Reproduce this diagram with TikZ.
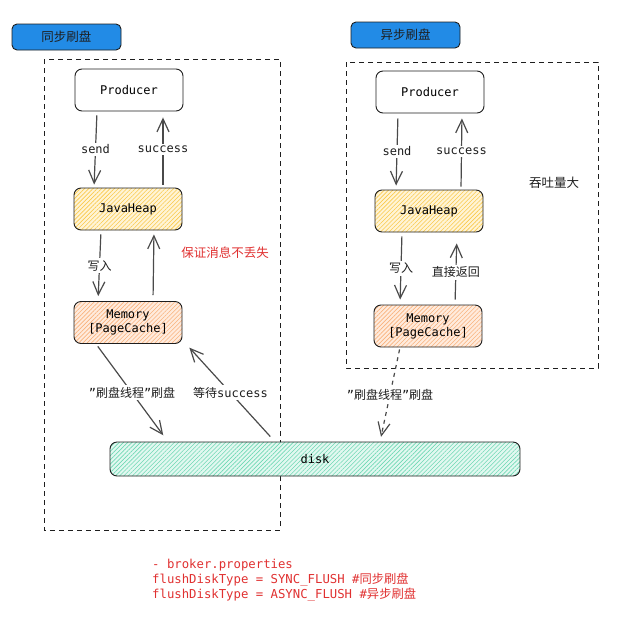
\documentclass[tikz,border=0pt]{standalone}
\usepackage{fontspec}
\setmainfont{DejaVu Sans Mono}[Ligatures=ResetAll]
\newfontfamily\cjk{Noto Sans CJK SC}
\usetikzlibrary{arrows.meta,patterns.meta,calc}
\definecolor{ink}{HTML}{1E1E1E}
\definecolor{arrowc}{HTML}{4A4A4A}
\definecolor{btnblue}{HTML}{228BE6}
\definecolor{heapbg}{HTML}{FFF4D6}
\definecolor{heapln}{HTML}{FAC94A}
\definecolor{membg}{HTML}{FFEBDD}
\definecolor{memln}{HTML}{F9B27C}
\definecolor{diskbg}{HTML}{E2F8F0}
\definecolor{diskln}{HTML}{6FD8B4}
\definecolor{redtxt}{HTML}{E03131}
\newcommand{\qq}{\char34}
\tikzset{
  box/.style={draw=ink, line width=0.9pt, rounded corners=7pt, minimum width=108pt, minimum height=42pt, align=center, font=\fontsize{12}{14}\selectfont, fill=white},
  heapbox/.style={box, fill=none, preaction={fill=heapbg}, pattern={Lines[angle=45,distance=3pt,line width=0.6pt]}, pattern color=heapln},
  membox/.style={box, fill=none, preaction={fill=membg}, pattern={Lines[angle=45,distance=3pt,line width=0.6pt]}, pattern color=memln},
  diskbox/.style={box, fill=none, preaction={fill=diskbg}, pattern={Lines[angle=45,distance=3pt,line width=0.6pt]}, pattern color=diskln, minimum width=410pt, minimum height=34pt},
  btn/.style={draw=ink, line width=0.9pt, rounded corners=5pt, fill=btnblue, minimum width=109pt, minimum height=26pt, font=\fontsize{12.5}{14}\selectfont\cjk, text=ink},
  frame/.style={draw=ink, line width=0.9pt, dash pattern=on 5pt off 4pt},
  arr/.style={draw=arrowc, line width=1.2pt, -{Straight Barb[length=13pt,width=12pt,line width=1.2pt]}},
  lbl/.style={fill=white, inner sep=2pt, font=\fontsize{12}{14}\selectfont, text=ink},
  clbl/.style={font=\fontsize{12.5}{14}\selectfont\cjk, text=ink}
}
\begin{document}
\begin{tikzpicture}[x=1pt,y=-1pt]
\useasboundingbox (0,0) rectangle (628,638);
% frames
\draw[frame] (44,59) rectangle (280,530);
\draw[frame] (346,62) rectangle (598,368);
% buttons
\node[btn] (b1) at (66.5,37) {同步刷盘};
\node[btn] (b2) at (405.5,35) {异步刷盘};
% disk
\node[diskbox] (disk) at (315,459) {disk};
% left column
\node[box] (p1) at (129,90) {Producer};
\node[heapbox] (j1) at (128,209) {JavaHeap};
\node[membox] (m1) at (128,322.5) {Memory\\{[PageCache]}};
% right column
\node[box] (p2) at (430,92) {Producer};
\node[heapbox] (j2) at (429,211) {JavaHeap};
\node[membox] (m2) at (428,326) {Memory\\{[PageCache]}};
% left arrows
\draw[arr, shorten <=4pt, shorten >=3pt] ([xshift=-32pt]p1.south) -- node[lbl]{send} ([xshift=-34pt]j1.north);
\draw[arr, shorten <=3pt, shorten >=6pt] ([xshift=35pt]j1.north) -- node[lbl]{success} ([xshift=34pt]p1.south);
\draw[arr, shorten <=4pt, shorten >=5pt] ([xshift=-27pt]j1.south) -- node[lbl, font=\fontsize{12}{14}\selectfont\cjk]{写入} ([xshift=-30pt]m1.north);
\draw[arr, shorten <=6pt, shorten >=4pt] ([xshift=25pt]m1.north) -- ([xshift=26pt]j1.south);
\draw[arr, shorten <=3pt, shorten >=8pt] ([xshift=-32pt]m1.south) -- node[lbl]{\qq{\cjk 刷盘线程}\qq{\cjk 刷盘}} ([xshift=-147pt]disk.north);
\draw[arr, shorten <=7pt, shorten >=5pt] ([xshift=-40pt]disk.north) -- node[lbl]{{\cjk 等待}success} ([xshift=58pt]m1.south);
% right arrows
\draw[arr, shorten <=5pt, shorten >=4pt] ([xshift=-32pt]p2.south) -- node[lbl]{send} ([xshift=-33pt]j2.north);
\draw[arr, shorten <=3pt, shorten >=5pt] ([xshift=32pt]j2.north) -- node[lbl]{success} ([xshift=32pt]p2.south);
\draw[arr, shorten <=4pt, shorten >=5pt] ([xshift=-27pt]j2.south) -- node[lbl, font=\fontsize{12}{14}\selectfont\cjk]{写入} ([xshift=-28pt]m2.north);
\draw[arr, shorten <=5pt, shorten >=11pt] ([xshift=27pt]m2.north) -- node[lbl, font=\fontsize{12}{14}\selectfont\cjk, pos=0.45]{直接返回} ([xshift=28pt]j2.south);
\draw[arr, dash pattern=on 4pt off 4pt, shorten <=2pt, shorten >=5pt] ([xshift=-28pt]m2.south) -- node[lbl]{\qq{\cjk 刷盘线程}\qq{\cjk 刷盘}} ([xshift=65pt]disk.north);
% notes
\node[clbl, text=redtxt] (n1) at (225,253) {保证消息不丢失};
\node[clbl] (n2) at (554,183) {吞吐量大};
\node[anchor=north west, align=left, text=redtxt, font=\fontsize{12.3}{15}\selectfont, inner sep=0pt] (cfg) at (152,559) {- broker.properties\\flushDiskType = SYNC\_FLUSH \#{\cjk 同步刷盘}\\flushDiskType = ASYNC\_FLUSH \#{\cjk 异步刷盘}};
\end{tikzpicture}
\end{document}
